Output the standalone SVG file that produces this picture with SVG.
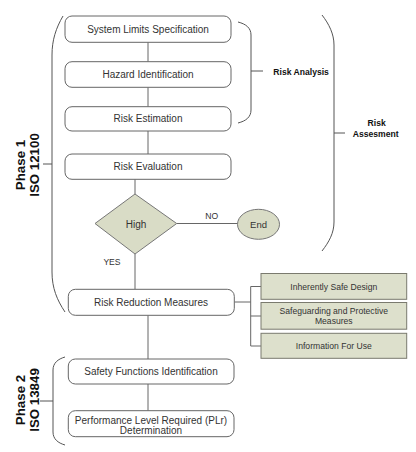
<svg xmlns="http://www.w3.org/2000/svg" width="416" height="452" viewBox="0 0 416 452">
<style>
.box{fill:#fff;stroke:#666;stroke-width:1}
.dec{fill:#d9dcc6;stroke:#777;stroke-width:1}
.grn{fill:#dde0cc;stroke:#7a7a6e;stroke-width:1}
.ln{fill:none;stroke:#666;stroke-width:1}
.br{fill:none;stroke:#555;stroke-width:1}
.t{font-family:"Liberation Sans",Arial,sans-serif;font-size:10px;fill:#333;text-anchor:middle}
.s{font-family:"Liberation Sans",Arial,sans-serif;font-size:8.6px;fill:#333;text-anchor:middle}
.b{font-family:"Liberation Sans",Arial,sans-serif;font-size:8.6px;font-weight:bold;fill:#111}
.ph{font-family:"Liberation Sans",Arial,sans-serif;font-size:13.3px;font-weight:bold;fill:#111;text-anchor:middle}
</style>
<rect width="416" height="452" fill="#fff"/>
<g id="connectors">
<path class="ln" d="M148,42.3V61.7M148,87.3V106.7M148,131V154M135,179.3V194M176.7,223.5H237.5M135,254V289.3M148,315.3V359M148,384V410.7"/>
<path class="ln" d="M234.3,302H250.7M250.7,286.5V346M250.7,286.5H261M250.7,316H261M250.7,346H261"/>
<text class="s" x="211.7" y="219">NO</text>
<text class="s" x="112" y="264.8">YES</text>
</g>
<g id="brace-phase1">
<path class="br" d="M63,16C56,28 52,40 52,55V272C52,288 57,300 65,312M43,164H52"/>
<text class="ph" transform="translate(25,165) rotate(-90)">Phase 1</text>
<text class="ph" transform="translate(38.5,165) rotate(-90)">ISO 12100</text>
</g>
<g id="brace-phase2">
<path class="br" d="M65,357C58,359 53,363 53,370V432C53,439 58,443 65,445M40,401H53"/>
<text class="ph" transform="translate(25,400) rotate(-90)">Phase 2</text>
<text class="ph" transform="translate(38.5,400) rotate(-90)">ISO 13849</text>
</g>
<g id="brace-risk-analysis">
<path class="br" d="M238,22C246,24 251,28 251,35V110C251,117 246,121 238,123M251,71H263"/>
<text class="b" x="273.3" y="74.8">Risk Analysis</text>
</g>
<g id="brace-risk-assessment">
<path class="br" d="M322,15C329,24 334,34 334,45V222C334,233 329,242 322,251M334,133H345"/>
<text class="b" x="376.7" y="126.4" text-anchor="middle">Risk</text>
<text class="b" x="375.7" y="137.4" text-anchor="middle">Assesment</text>
</g>
<g id="system-limits">
<rect class="box" x="65" y="16" width="166" height="26.3" rx="7"/>
<text class="t" x="148" y="32.7">System Limits Specification</text>
</g>
<g id="hazard-identification">
<rect class="box" x="65" y="61.7" width="166" height="25.6" rx="7"/>
<text class="t" x="148" y="78">Hazard Identification</text>
</g>
<g id="risk-estimation">
<rect class="box" x="65" y="106.7" width="166" height="24.3" rx="7"/>
<text class="t" x="148" y="122.3">Risk Estimation</text>
</g>
<g id="risk-evaluation">
<rect class="box" x="65" y="154" width="166" height="25.3" rx="7"/>
<text class="t" x="148" y="170.2">Risk Evaluation</text>
</g>
<g id="high">
<polygon class="dec" points="135,194 176.7,223.5 135,254 95,223.5"/>
<text class="t" x="136" y="227.5">High</text>
</g>
<g id="end">
<ellipse class="dec" cx="258.5" cy="224.3" rx="21" ry="15"/>
<text class="t" x="258.5" y="227.6" style="font-size:9.5px">End</text>
</g>
<g id="risk-reduction">
<rect class="box" x="68.3" y="289.3" width="166" height="26" rx="7"/>
<text class="t" x="151" y="305.8">Risk Reduction Measures</text>
</g>
<g id="inherently-safe">
<rect class="grn" x="261" y="273.5" width="145.7" height="25.8"/>
<text class="s" x="333.8" y="289.5">Inherently Safe Design</text>
</g>
<g id="safeguarding">
<rect class="grn" x="261" y="302.5" width="145.7" height="26.7"/>
<text class="s" x="333.8" y="313.8">Safeguarding and Protective</text>
<text class="s" x="333.8" y="323.8">Measures</text>
</g>
<g id="information">
<rect class="grn" x="261" y="333.3" width="145.7" height="25"/>
<text class="s" x="333.8" y="349">Information For Use</text>
</g>
<g id="safety-functions">
<rect class="box" x="68.3" y="359" width="165.7" height="25" rx="7"/>
<text class="t" x="151" y="375">Safety Functions Identification</text>
</g>
<g id="performance-level">
<rect class="box" x="68.3" y="410.7" width="165.7" height="26" rx="7"/>
<text class="t" x="151" y="423.5">Performance Level Required (PLr)</text>
<text class="t" x="151" y="433.5">Determination</text>
</g>
</svg>
